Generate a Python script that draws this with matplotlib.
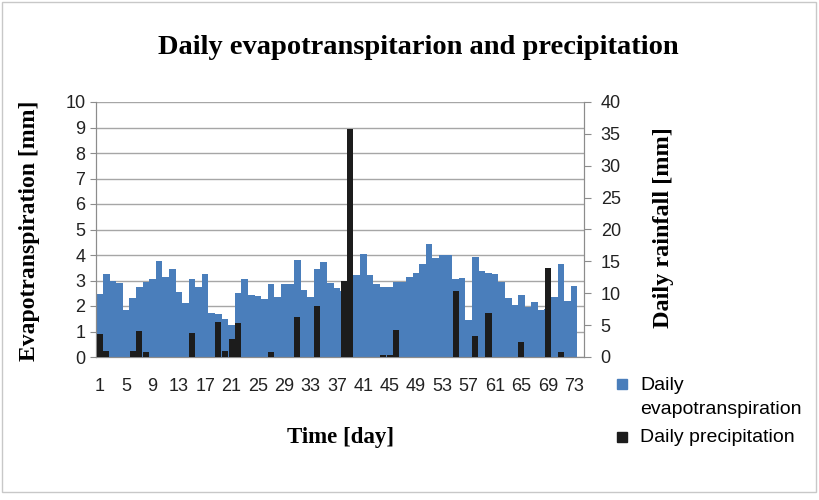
import matplotlib.pyplot as plt
from matplotlib.patches import Rectangle

days = list(range(1, 75))
evapo = [2.47, 3.25, 3.0, 2.92, 1.86, 2.3, 2.76, 2.94, 3.06, 3.76,
         3.15, 3.45, 2.55, 2.12, 3.05, 2.75, 3.25, 1.71, 1.67, 1.5,
         1.25, 2.5, 3.06, 2.42, 2.4, 2.27, 2.85, 2.37, 2.85, 2.85,
         3.8, 2.63, 2.37, 3.44, 3.71, 2.89, 2.7, 2.6, 2.9, 3.2,
         4.03, 3.2, 2.85, 2.75, 2.75, 2.95, 2.95, 3.12, 3.28, 3.63,
         4.44, 3.9, 4.0, 4.0, 3.07, 3.08, 1.47, 3.94, 3.38, 3.28,
         3.26, 2.95, 2.3, 2.02, 2.43, 1.98, 2.15, 1.83, 1.9, 2.37,
         3.65, 2.2, 2.79, 0]
precip = [3.6, 0.9, 0, 0, 0, 0.9, 4.0, 0.85, 0, 0,
          0, 0, 0, 0, 3.8, 0, 0, 0, 5.5, 0.9,
          2.8, 5.3, 0, 0, 0, 0, 0.75, 0, 0, 0,
          6.25, 0, 0, 8.0, 0, 0, 0, 11.9, 35.8, 0,
          0, 0, 0, 0.25, 0.35, 4.3, 0, 0, 0, 0,
          0, 0, 0, 0, 10.35, 0, 0, 3.3, 0, 6.95,
          0, 0, 0, 0, 2.3, 0, 0, 0, 13.9, 0,
          0.8, 0, 0, 0]
xticks = list(range(1, 74, 4))

blue = '#4A7EBB'
dark = '#1c1c1c'
grey = '#8c8c8c'
serif = 'Liberation Serif'
sans = 'Liberation Sans'

fig = plt.figure(figsize=(8.2, 5), dpi=100)
ax = fig.add_axes([96.5 / 820, 1 - 357 / 500, (584 - 96.5) / 820, (357 - 102) / 500])
ax2 = ax.twinx()

ax.bar(days, evapo, width=1.0, color=blue, zorder=2)
ax2.bar(days, precip, width=0.92, color=dark, zorder=3)

ax.set_xlim(0.5, 74.5)
ax.set_ylim(0, 10)
ax2.set_ylim(0, 40)
ax.set_yticks(range(0, 11))
ax2.set_yticks(range(0, 41, 5))
ax.set_xticks(xticks)
ax.yaxis.grid(True, color='#a6a6a6', lw=1, zorder=0)
ax.set_axisbelow(True)

for a in (ax, ax2):
    a.spines['top'].set_visible(False)
    for s in ('left', 'right', 'bottom'):
        a.spines[s].set_color(grey)
ax.tick_params(axis='x', length=0, pad=15, labelsize=13)
ax.tick_params(axis='y', length=4, color=grey, pad=4, labelsize=13)
ax2.tick_params(axis='y', length=5, color=grey, pad=7, labelsize=13)
for lab in ax.get_xticklabels() + ax.get_yticklabels() + ax2.get_yticklabels():
    lab.set_fontfamily(sans)
    lab.set_color('#222222')

fig.text(418 / 820, 1 - 47 / 500, 'Daily evapotranspitarion and precipitation',
         ha='center', va='center', fontsize=20.5, fontweight='bold', family=serif)
fig.text(30 / 820, 1 - 231 / 500, 'Evapotranspiration [mm]', rotation=90,
         ha='center', va='center', fontsize=17, fontweight='bold', family=serif)
fig.text(663 / 820, 1 - 228 / 500, 'Daily rainfall [mm]', rotation=90,
         ha='center', va='center', fontsize=17.5, fontweight='bold', family=serif)
fig.text(341 / 820, 1 - 437 / 500, 'Time [day]',
         ha='center', va='center', fontsize=16.5, fontweight='bold', family=serif)

# legend drawn by hand so the marker sits on the first line
fig.patches.append(Rectangle((617 / 820, 1 - 389 / 500), 10 / 820, 10 / 500,
                             transform=fig.transFigure, color=blue))
fig.text(640 / 820, 1 - 385 / 500, 'Daily', va='center', fontsize=14, family=sans)
fig.text(640 / 820, 1 - 410 / 500, 'evapotranspiration', va='center', fontsize=14, family=sans)
fig.patches.append(Rectangle((617 / 820, 1 - 442 / 500), 10 / 820, 10 / 500,
                             transform=fig.transFigure, color=dark))
fig.text(640 / 820, 1 - 438 / 500, 'Daily precipitation', va='center', fontsize=14, family=sans)

fig.patches.append(Rectangle((2 / 820, 8 / 500), 814 / 820, 490 / 500,
                             transform=fig.transFigure, fill=False, ec='#c8c8c8', lw=1))

fig.savefig('out.png', dpi=100)
